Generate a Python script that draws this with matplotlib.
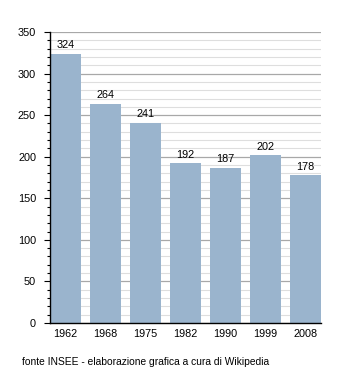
import matplotlib
matplotlib.use("Agg")
import matplotlib.pyplot as plt
from matplotlib.ticker import MultipleLocator

# Abitanti censiti
anni = ["1962", "1968", "1975", "1982", "1990", "1999", "2008"]
abitanti = [324, 264, 241, 192, 187, 202, 178]

plt.rcParams['font.family'] = ['Liberation Sans', 'DejaVu Sans']

fig = plt.figure(figsize=(3.5, 3.73), dpi=100)
ax = fig.add_axes([50 / 350, 50 / 373, 271 / 350, 291 / 373])

larg = 0.775
pos = list(range(len(anni)))
barre = ax.bar(pos, abitanti, width=larg, align='edge', color='#9ab4cd', zorder=3)
for b, v in zip(barre, abitanti):
    ax.text(b.get_x() + b.get_width() / 2, v + 4, str(v),
            ha='center', va='bottom', fontsize=7.8, zorder=4)

ax.set_xlim(0, len(anni) - 1 + larg)
ax.set_ylim(0, 350)
ax.set_xticks([p + larg / 2 for p in pos])
ax.set_xticklabels(anni, fontsize=7.8)
ax.yaxis.set_major_locator(MultipleLocator(50))
ax.yaxis.set_minor_locator(MultipleLocator(10))
ax.tick_params(axis='y', labelsize=7.8, length=4, width=0.8, pad=6)
ax.tick_params(axis='y', which='minor', length=2.5, width=0.8)
ax.tick_params(axis='x', length=0, pad=4)

ax.grid(axis='y', which='major', color='#a8a8a8', linewidth=0.9, zorder=1)
ax.grid(axis='y', which='minor', color='#dedede', linewidth=0.8, zorder=0)

for s in ['top', 'right']:
    ax.spines[s].set_visible(False)
ax.spines['left'].set_linewidth(1.0)
ax.spines['bottom'].set_linewidth(1.0)
ax.spines['left'].set_zorder(5)
ax.spines['bottom'].set_zorder(5)

fig.text(22 / 350, 1 - 362 / 373, "fonte INSEE - elaborazione grafica a cura di Wikipedia",
         fontsize=7.4, va='center', ha='left')

fig.savefig("out.png", dpi=100)
